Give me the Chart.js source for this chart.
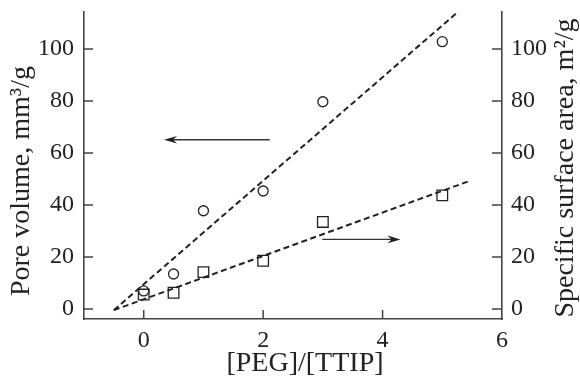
<!DOCTYPE html>
<html>
<head>
<meta charset="utf-8">
<script src="https://cdn.jsdelivr.net/npm/chart.js@4/dist/chart.umd.min.js"></script>
<style>
  html, body { margin: 0; padding: 0; background: #fff; }
  #wrap { width: 580px; height: 379px; }
</style>
</head>
<body>
<div id="wrap"><canvas id="c" width="580" height="379"></canvas></div>
<script>
// ---- data ----
const pegRatio = [0, 0.5, 1, 2, 3, 5];
const poreVolume = [7, 13.5, 37.8, 45.4, 79.7, 102.8];      // mm3/g (left axis)
const surfaceArea = [5.6, 6.3, 14.2, 18.6, 33.5, 43.7];     // m2/g (right axis)
const poreFitX = [-0.5, 5.25];
const poreFitY = [-0.4, 114];
const areaFitX = [-0.5, 5.46];
const areaFitY = [-0.4, 49.3];
const xTicks = [0, 2, 4, 6];
const yTicks = [0, 20, 40, 60, 80, 100];
const arrowLeft = { x: [2.11, 0.34], y: [65.1, 65.1] };
const arrowRight = { x: [2.99, 4.30], y: [26.8, 26.8] };
const xTitle = '[PEG]/[TTIP]';
const yLeftTitle = 'Pore volume, mm\u00B3/g';
const yRightTitle = 'Specific surface area, m\u00B2/g';

const FONT = '"Liberation Serif", "Times New Roman", serif';
const INK = '#222';
const AXIS = '#444';

const toXY = (xs, ys) => xs.map((x, i) => ({ x: x, y: ys[i] }));

const extras = {
  id: 'extras',
  afterDraw(chart) {
    const ctx = chart.ctx;
    const xs = chart.scales.x, yl = chart.scales.y, yr = chart.scales.y2;
    const ca = chart.chartArea;
    ctx.save();
    // inward tick marks
    ctx.strokeStyle = AXIS;
    ctx.lineWidth = 1.5;
    ctx.beginPath();
    xTicks.forEach(v => {
      if (v >= xs.max) return;
      const px = xs.getPixelForValue(v);
      ctx.moveTo(px, ca.bottom); ctx.lineTo(px, ca.bottom - 9);
    });
    yTicks.forEach(v => {
      const py = yl.getPixelForValue(v);
      ctx.moveTo(ca.left, py); ctx.lineTo(ca.left + 9, py);
      const pr = yr.getPixelForValue(v);
      ctx.moveTo(ca.right, pr); ctx.lineTo(ca.right - 10, pr);
    });
    ctx.stroke();

    // arrows
    const drawArrow = (a, scaleY) => {
      const x0 = xs.getPixelForValue(a.x[0]), x1 = xs.getPixelForValue(a.x[1]);
      const y0 = scaleY.getPixelForValue(a.y[0]), y1 = scaleY.getPixelForValue(a.y[1]);
      const ang = Math.atan2(y1 - y0, x1 - x0);
      ctx.strokeStyle = '#333';
      ctx.fillStyle = '#222';
      ctx.lineWidth = 1.3;
      ctx.beginPath();
      ctx.moveTo(x0, y0);
      ctx.lineTo(x1 - 6 * Math.cos(ang), y1 - 6 * Math.sin(ang));
      ctx.stroke();
      ctx.save();
      ctx.translate(x1, y1);
      ctx.rotate(ang);
      ctx.beginPath();
      ctx.moveTo(0, 0);
      ctx.lineTo(-13, -3.8);
      ctx.lineTo(-9, 0);
      ctx.lineTo(-13, 3.8);
      ctx.closePath();
      ctx.fill();
      ctx.restore();
    };
    drawArrow(arrowLeft, yl);
    drawArrow(arrowRight, yr);

    // axis titles
    ctx.fillStyle = INK;
    ctx.font = '28px ' + FONT;
    ctx.textAlign = 'center';
    ctx.textBaseline = 'middle';
    ctx.fillText(xTitle, 305, 364);
    ctx.save();
    ctx.translate(22, 181);
    ctx.rotate(-Math.PI / 2);
    ctx.fillText(yLeftTitle, 0, 0);
    ctx.restore();
    ctx.save();
    ctx.translate(566, 168);
    ctx.rotate(-Math.PI / 2);
    ctx.fillText(yRightTitle, 0, 0);
    ctx.restore();
    ctx.restore();
  }
};

const fixedTicks = arr => (scale) => { scale.ticks = arr.map(v => ({ value: v })); };
const noPad = s => { s.paddingTop = 0; s.paddingBottom = 0; s.paddingLeft = 0; s.paddingRight = 0; };

new Chart(document.getElementById('c'), {
  type: 'scatter',
  data: {
    datasets: [
      {
        label: 'Pore volume fit',
        data: toXY(poreFitX, poreFitY),
        showLine: true,
        borderColor: '#222',
        borderWidth: 2,
        borderDash: [6, 3.5],
        pointRadius: 0,
        yAxisID: 'y',
        clip: false
      },
      {
        label: 'Surface area fit',
        data: toXY(areaFitX, areaFitY),
        showLine: true,
        borderColor: '#222',
        borderWidth: 2,
        borderDash: [6, 3.5],
        pointRadius: 0,
        yAxisID: 'y2',
        clip: false
      },
      {
        label: 'Pore volume',
        data: toXY(pegRatio, poreVolume),
        pointStyle: 'circle',
        pointRadius: 5,
        pointBorderWidth: 1.3,
        borderColor: '#222',
        backgroundColor: 'rgba(255,255,255,0)',
        yAxisID: 'y'
      },
      {
        label: 'Specific surface area',
        data: toXY(pegRatio, surfaceArea),
        pointStyle: 'rect',
        pointRadius: 7.5,
        pointBorderWidth: 1.3,
        borderColor: '#222',
        backgroundColor: 'rgba(255,255,255,0)',
        yAxisID: 'y2'
      }
    ]
  },
  options: {
    responsive: false,
    animation: false,
    events: [],
    layout: { padding: { top: 12, left: 0, right: 0, bottom: 0 } },
    plugins: { legend: { display: false }, tooltip: { enabled: false } },
    scales: {
      x: {
        type: 'linear',
        position: 'bottom',
        min: -1, max: 6,
        afterBuildTicks: fixedTicks(xTicks),
        afterFit: s => { s.height = 60; noPad(s); },
        grid: { display: false, drawTicks: false },
        border: { display: true, color: AXIS, width: 1.6 },
        ticks: { color: INK, font: { family: FONT, size: 24 }, padding: 7, maxRotation: 0, callback: v => String(v) }
      },
      y: {
        type: 'linear',
        position: 'left',
        min: -3.8, max: 114.2,
        afterBuildTicks: fixedTicks(yTicks),
        afterFit: s => { s.width = 84; noPad(s); },
        grid: { display: false, drawTicks: false },
        border: { display: true, color: AXIS, width: 1.6 },
        ticks: { color: INK, font: { family: FONT, size: 24 }, padding: 10, callback: v => String(v) }
      },
      y2: {
        type: 'linear',
        position: 'right',
        min: -3.8, max: 114.2,
        afterBuildTicks: fixedTicks(yTicks),
        afterFit: s => { s.width = 78; noPad(s); },
        grid: { display: false, drawTicks: false },
        border: { display: true, color: AXIS, width: 1.6 },
        ticks: { color: INK, font: { family: FONT, size: 24 }, padding: 9, callback: v => String(v) }
      }
    }
  },
  plugins: [extras]
});
</script>
</body>
</html>
